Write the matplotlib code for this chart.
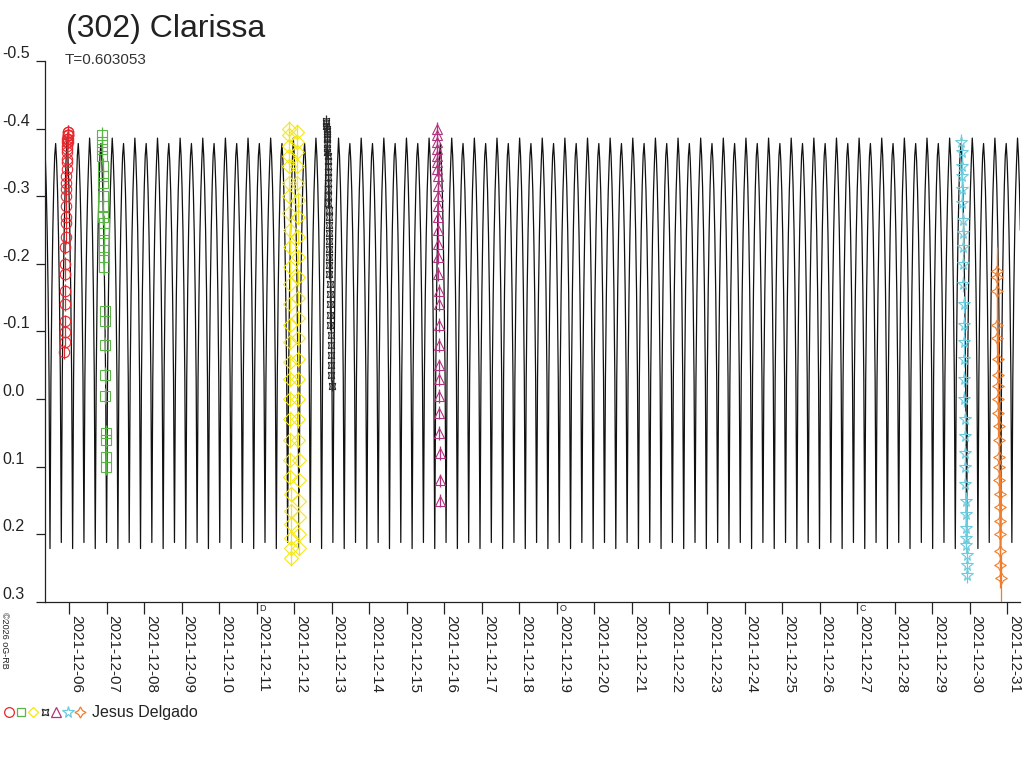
import numpy as np
import matplotlib
matplotlib.use("Agg")
import matplotlib.pyplot as plt
import matplotlib.dates as mdates
from matplotlib.lines import Line2D

plt.rcParams['font.family'] = ['Liberation Sans', 'DejaVu Sans']
TXT = '#222222'

## Data (days counted from 2021-12-06 00:00 UT, relative magnitudes)

title = "(302) Clarissa"
period = 0.603053
observer = "Jesus Delgado"

# one rotation of the model curve, 24 samples, starting at the brighter maximum
curve_shape = [-0.386, -0.360, -0.315, -0.250, -0.160, -0.030, 0.221, -0.030, -0.160, -0.250, -0.315, -0.360,
               -0.378, -0.352, -0.308, -0.244, -0.155, -0.030, 0.212, -0.030, -0.155, -0.244, -0.308, -0.352]
curve_epoch = 25.274

red_t = [-0.120, -0.117, -0.114, -0.110, -0.107, -0.104, -0.100, -0.097, -0.094, -0.090, -0.087, -0.084, -0.080,
         -0.077, -0.074, -0.070, -0.067, -0.064, -0.060, -0.057, -0.054, -0.050, -0.047, -0.044, -0.040, -0.037,
         -0.034, -0.031, -0.028, -0.025, -0.022, -0.019]
red_m = [-0.070, -0.085, -0.100, -0.115, -0.140, -0.160, -0.185, -0.200, -0.225, -0.240, -0.260, -0.270, -0.285,
         -0.300, -0.310, -0.320, -0.330, -0.340, -0.350, -0.355, -0.365, -0.370, -0.375, -0.380, -0.385, -0.390,
         -0.395, -0.390, -0.385, -0.395, -0.380, -0.390]

grn_t = [0.880, 0.884, 0.888, 0.892, 0.896, 0.900, 0.904, 0.908, 0.912, 0.916, 0.920, 0.924, 0.928,
         0.932, 0.936, 0.940, 0.946, 0.952, 0.958, 0.964, 0.970, 0.975, 0.980, 0.985, 0.990]
grn_m = [-0.390, -0.380, -0.370, -0.360, -0.345, -0.330, -0.320, -0.300, -0.285, -0.270, -0.260, -0.245, -0.235,
         -0.220, -0.210, -0.195, -0.130, -0.115, -0.080, -0.035, -0.005, 0.050, 0.060, 0.085, 0.100]

yel_t = [5.860, 5.862, 5.864, 5.866, 5.868, 5.870, 5.872, 5.874, 5.876, 5.878, 5.880, 5.882, 5.884, 5.886,
         5.888, 5.890, 5.892, 5.894, 5.896, 5.898, 5.900, 5.902, 5.904, 5.906, 5.908, 5.910, 5.912, 5.914,
         6.080, 6.082, 6.084, 6.086, 6.088, 6.090, 6.092, 6.094, 6.096, 6.098, 6.100, 6.102, 6.104, 6.106,
         6.108, 6.110, 6.112, 6.114, 6.116, 6.118, 6.120, 6.122, 6.124, 6.126]
yel_m = [-0.400, -0.390, -0.375, -0.360, -0.345, -0.320, -0.300, -0.275, -0.250, -0.225, -0.195, -0.170, -0.140,
         -0.110, -0.085, -0.055, -0.030, 0.000, 0.030, 0.060, 0.090, 0.115, 0.140, 0.165, 0.185, 0.205, 0.220, 0.235,
         -0.395, -0.380, -0.365, -0.345, -0.320, -0.295, -0.270, -0.240, -0.210, -0.180, -0.150, -0.120, -0.090,
         -0.060, -0.030, 0.000, 0.030, 0.060, 0.090, 0.120, 0.150, 0.175, 0.200, 0.220]

blk_t = [6.855, 6.858, 6.861, 6.864, 6.867, 6.870, 6.873, 6.876, 6.879, 6.882, 6.885, 6.888, 6.891, 6.894,
         6.897, 6.900, 6.903, 6.906, 6.909, 6.912, 6.915, 6.918, 6.921, 6.924, 6.927, 6.930, 6.933, 6.936,
         6.940, 6.945, 6.950, 6.955, 6.960, 6.965, 6.970, 6.975, 6.980, 6.985, 6.990, 6.995]
blk_m = [-0.412, -0.408, -0.404, -0.400, -0.396, -0.392, -0.388, -0.384, -0.378, -0.372, -0.366, -0.360, -0.352,
         -0.344, -0.336, -0.328, -0.320, -0.310, -0.300, -0.290, -0.280, -0.270, -0.258, -0.246, -0.234, -0.222,
         -0.210, -0.198, -0.185, -0.170, -0.155, -0.140, -0.125, -0.110, -0.095, -0.080, -0.065, -0.050, -0.035,
         -0.020]

pur_t = [9.800, 9.803, 9.806, 9.809, 9.812, 9.815, 9.818, 9.821, 9.824, 9.827, 9.830, 9.833, 9.836, 9.839,
         9.842, 9.845, 9.848, 9.851, 9.854, 9.857, 9.860, 9.863, 9.866, 9.869, 9.872, 9.875, 9.878, 9.881]
pur_m = [-0.400, -0.390, -0.380, -0.370, -0.360, -0.350, -0.340, -0.330, -0.315, -0.300, -0.285, -0.270, -0.250,
         -0.230, -0.210, -0.185, -0.160, -0.140, -0.110, -0.080, -0.050, -0.030, -0.005, 0.020, 0.050, 0.080,
         0.120, 0.150]

cya_t = [23.780, 23.785, 23.790, 23.795, 23.800, 23.805, 23.810, 23.815, 23.820, 23.825, 23.830, 23.835, 23.840,
         23.845, 23.850, 23.855, 23.860, 23.865, 23.870, 23.875, 23.880, 23.885, 23.890, 23.895, 23.900, 23.905,
         23.910, 23.915, 23.920, 23.925]
cya_m = [-0.380, -0.365, -0.345, -0.330, -0.310, -0.290, -0.265, -0.245, -0.225, -0.200, -0.170, -0.140, -0.110,
         -0.085, -0.060, -0.030, 0.000, 0.030, 0.055, 0.080, 0.100, 0.125, 0.150, 0.170, 0.190, 0.205, 0.215,
         0.230, 0.245, 0.260]

org_t = [24.720, 24.725, 24.730, 24.735, 24.740, 24.745, 24.750, 24.755, 24.760, 24.765, 24.770, 24.775,
         24.780, 24.785, 24.790, 24.795, 24.800, 24.805, 24.810, 24.815, 24.820, 24.825]
org_m = [-0.190, -0.180, -0.160, -0.110, -0.090, -0.060, -0.035, -0.020, 0.000, 0.020, 0.040, 0.060, 0.085,
         0.100, 0.120, 0.140, 0.160, 0.180, 0.200, 0.225, 0.245, 0.265]

# moon phases marked on the time axis
moon_days = [5, 13, 21]
moon_marks = ["D", "O", "C"]

## Helpers

base = np.datetime64('2021-12-06T00:00:00')

def to_date(d):
    return base + np.round(np.asarray(d, dtype=float) * 86400).astype('timedelta64[s]')

## Figure

fig = plt.figure(figsize=(10.24, 7.68), dpi=100)
ax = fig.add_axes([45/1024, 1 - 602/768, 975/1024, 541/768])

x_lo, x_hi = -0.6395, 25.34

# model curve: repeat the one-rotation shape along the period
k0 = int(np.floor((x_lo - curve_epoch) / period)) - 1
k1 = int(np.ceil((x_hi - curve_epoch) / period)) + 1
ns = len(curve_shape)
ct, cm = [], []
for k in range(k0, k1 + 1):
    for i in range(ns):
        ct.append(curve_epoch + (k + i / ns) * period)
        cm.append(curve_shape[i])
ax.plot(to_date(ct), cm, color='#111111', lw=0.9, zorder=2)

# (times, mags, marker, colour, size on plot, error bar, size in legend)
series = [
    (red_t, red_m, 'o', '#e8262c', 7.5, 0.010, 7.0),
    (grn_t, grn_m, 's', '#5ab446', 7.0, 0.012, 6.0),
    (yel_t, yel_m, 'D', '#f2e620', 7.5, 0.012, 5.5),
    (blk_t, blk_m, (4, 1, 45), '#262626', 6.5, 0.008, 6.5),
    (pur_t, pur_m, '^', '#b2327e', 6.5, 0.010, 6.5),
    (cya_t, cya_m, '*', '#6ccbdc', 8.5, 0.012, 8.5),
    (org_t, org_m, (4, 1, 0), '#f07d2c', 8.5, 0.035, 8.0),
]
for t, m, mk, col, ms, err, lms in series:
    ax.errorbar(to_date(t), m, yerr=err, fmt='none', ecolor=col,
                elinewidth=0.9, capsize=0, zorder=3)
    ax.plot(to_date(t), m, ls='none', marker=mk, mfc='none', mec=col,
            ms=ms, mew=0.8, zorder=3)

ax.set_xlim(to_date(x_lo), to_date(x_hi))
ax.set_ylim(0.3, -0.5)

for s in ['top', 'right']:
    ax.spines[s].set_visible(False)
for s in ['left', 'bottom']:
    ax.spines[s].set_color(TXT)
    ax.spines[s].set_linewidth(0.9)

ax.set_yticks(np.arange(-0.5, 0.31, 0.1))
ax.set_yticklabels(['-0.5', '-0.4', '-0.3', '-0.2', '-0.1', '0.0', '0.1', '0.2', '0.3'])
ax.tick_params(axis='y', direction='out', length=6.5, width=0.9, color=TXT, pad=24.5,
               labelsize=11.5, labelcolor=TXT)
plt.setp(ax.get_yticklabels(), ha='left', va='bottom')

ax.xaxis.set_major_locator(mdates.DayLocator())
ax.xaxis.set_major_formatter(mdates.DateFormatter('%Y-%m-%d'))
ax.tick_params(axis='x', direction='out', length=8.6, width=0.9, color=TXT, pad=1,
               labelsize=11, labelcolor=TXT)
plt.setp(ax.get_xticklabels(), rotation=-90, ha='left', va='top')

# moon phase marks just under the axis
for d, s in zip(moon_days, moon_marks):
    ax.text(to_date(d + 0.06), -0.004, s, transform=ax.get_xaxis_transform(),
            fontsize=6.5, color=TXT, ha='left', va='top')

fig.text(66/1024, 1 - 14/768, title, fontsize=23, color=TXT, ha='left', va='top')
fig.text(65/1024, 1 - 53/768, "T=%g" % period, fontsize=11, color='#333333', ha='left', va='top')
fig.text(4/1024, 1 - 612/768, "©2026 oG-RB", fontsize=6.5, color=TXT, rotation=-90,
         ha='center', va='top')

# legend row at the bottom
leg_y = 1 - 712/768
leg_x = [9, 21, 33, 44.5, 56, 67.5, 79.5]
for (t, m, mk, col, ms, err, lms), lx in zip(series, leg_x):
    fig.add_artist(Line2D([lx/1024], [leg_y], marker=mk, ls='none', mfc='none', mec=col,
                          ms=lms, mew=0.9, transform=fig.transFigure))
fig.text(92/1024, leg_y, observer, fontsize=11.5, color=TXT, ha='left', va='center')

fig.savefig('out.png', dpi=100)
